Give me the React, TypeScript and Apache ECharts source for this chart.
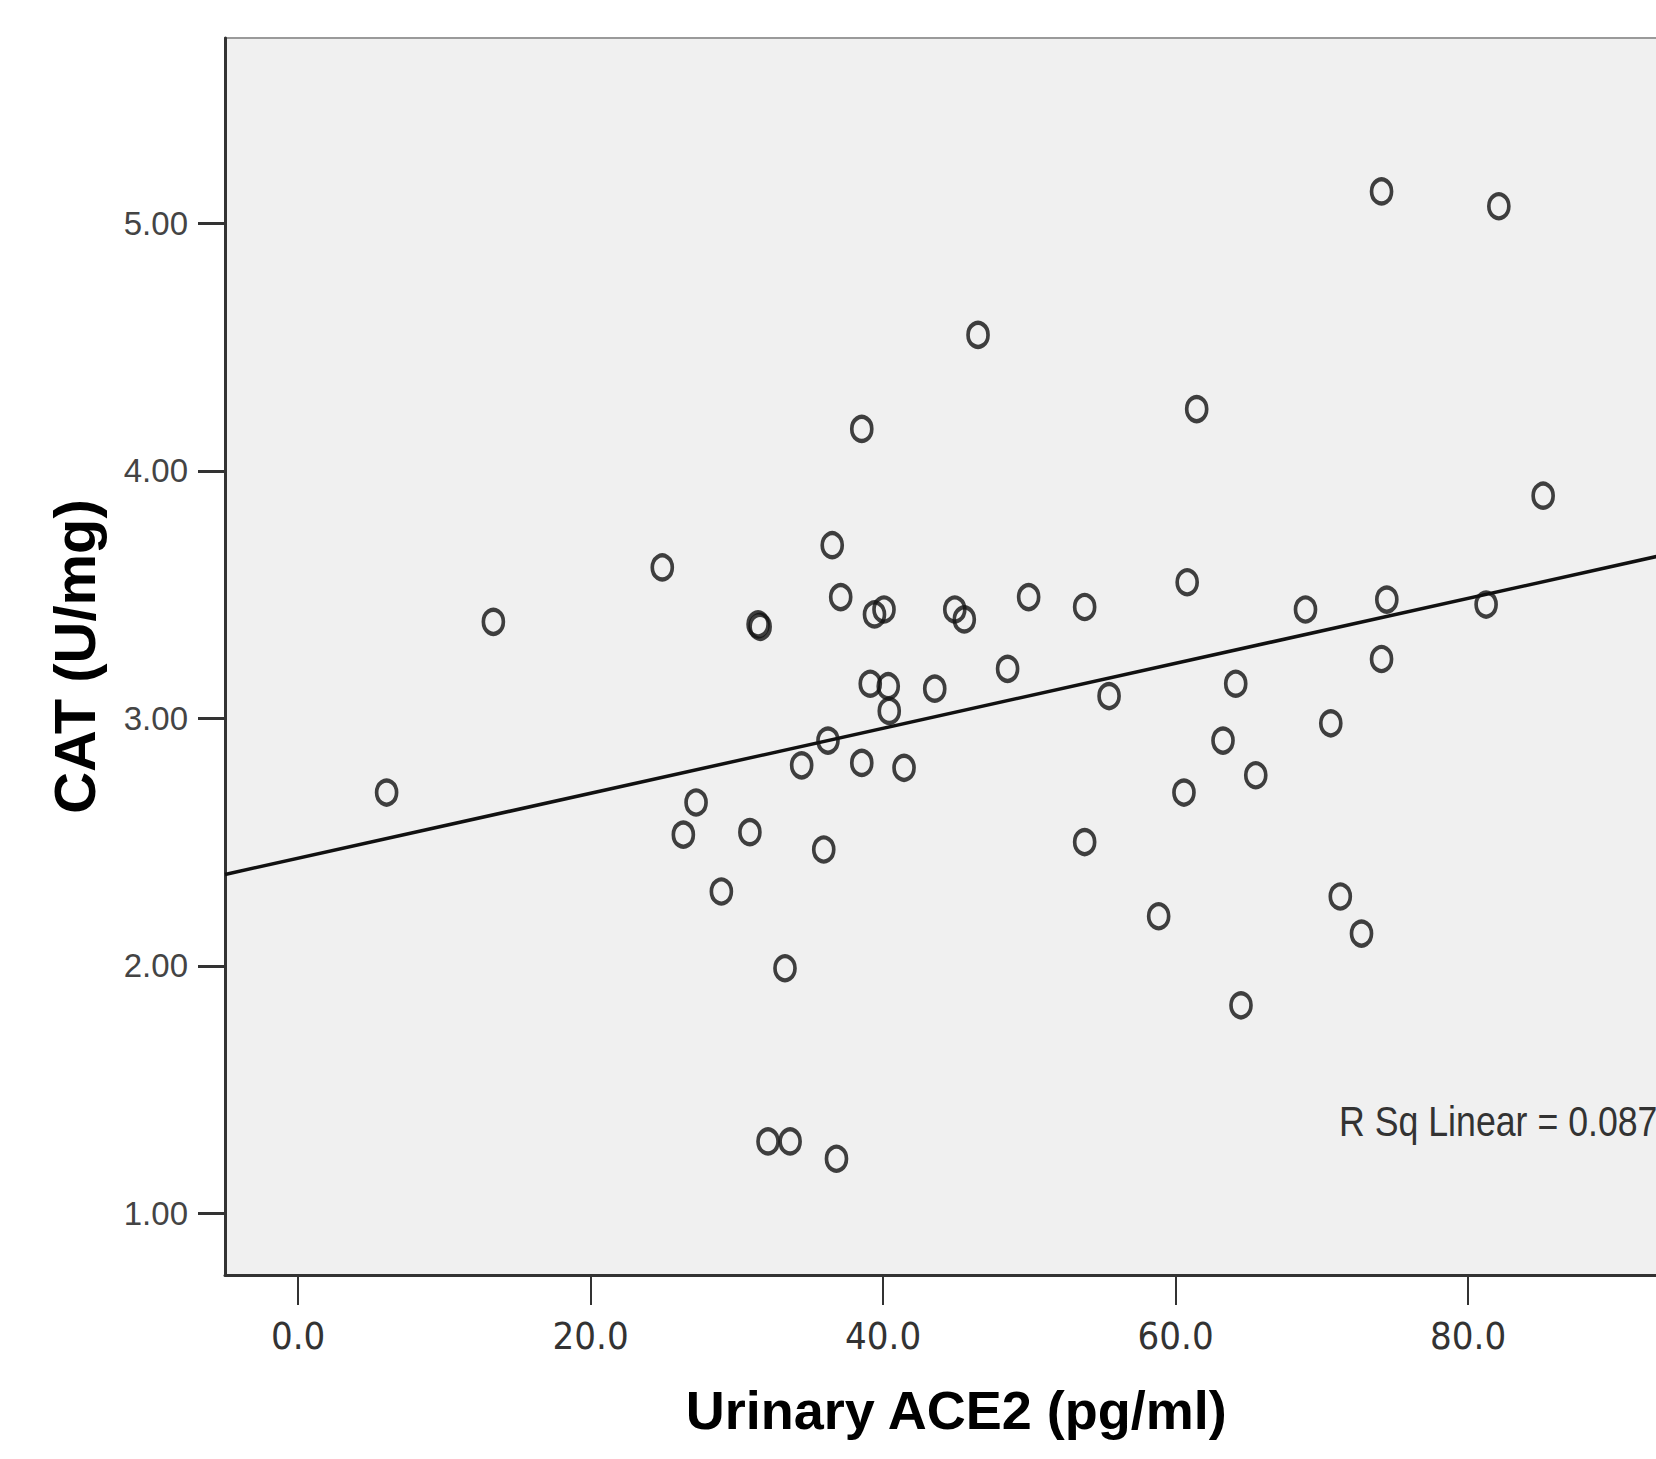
import React, { useEffect, useRef } from "react";
import * as echarts from "echarts";

// Urinary ACE2 (pg/ml) for each subject
const ace2 = [
  6.05, 13.35, 24.9, 26.34, 27.21, 28.94, 30.89, 31.45, 31.59, 33.29,
  32.13, 33.64, 36.81, 34.43, 35.94, 36.23, 36.52, 37.1, 38.54, 38.54,
  39.12, 39.41, 40.06, 40.35, 40.42, 41.43, 43.53, 44.9, 45.55, 46.49,
  48.51, 49.95, 53.78, 53.78, 55.45, 58.84, 60.57, 60.79, 61.44, 63.24,
  64.11, 64.47, 65.48, 68.88, 70.61, 71.26, 72.71, 74.08, 74.08, 74.44,
  81.23, 82.1, 85.13,
];
// CAT (U/mg) for each subject
const cat = [
  2.7, 3.39, 3.61, 2.53, 2.66, 2.3, 2.54, 3.38, 3.37, 1.99,
  1.29, 1.29, 1.22, 2.81, 2.47, 2.91, 3.7, 3.49, 4.17, 2.82,
  3.14, 3.42, 3.44, 3.13, 3.03, 2.8, 3.12, 3.44, 3.4, 4.55,
  3.2, 3.49, 3.45, 2.5, 3.09, 2.2, 2.7, 3.55, 4.25, 2.91,
  3.14, 1.84, 2.77, 3.44, 2.98, 2.28, 2.13, 5.13, 3.24, 3.48,
  3.46, 5.07, 3.9,
];
// Linear fit line end points
const fitX = [-5, 95];
const fitY = [2.369, 3.682];

const xTicks = [0, 20, 40, 60, 80];
const yTicks = [1, 2, 3, 4, 5];
const xTitle = "Urinary ACE2 (pg/ml)";
const yTitle = "CAT (U/mg)";
const rSqLabel = "R Sq Linear = 0.087";

const SANS = "'Liberation Sans', Arial, sans-serif";
const NARROW = "'DejaVu Sans Condensed', 'Liberation Sans Narrow', 'Liberation Sans', Arial, sans-serif";

export default function App() {
  const ref = useRef<HTMLDivElement>(null);
  useEffect(() => {
    const chart = echarts.init(ref.current!, null, { renderer: "svg" });
    chart.setOption({
      animation: false,
      backgroundColor: "#ffffff",
      grid: {
        show: true,
        left: 225,
        top: 38,
        width: 1462.5,
        height: 1237,
        outerBoundsMode: "none",
        containLabel: false,
        backgroundColor: "#f0f0f0",
        borderColor: "#9a9a9a",
        borderWidth: 2,
      },
      xAxis: {
        type: "value",
        min: -5,
        max: 95,
        splitLine: { show: false },
        axisLine: { show: true, onZero: false, lineStyle: { color: "#333", width: 3 } },
        axisTick: {
          show: true,
          customValues: xTicks,
          length: 30,
          lineStyle: { color: "#333", width: 2 },
        },
        axisLabel: {
          customValues: xTicks,
          formatter: (v: number) => v.toFixed(1),
          margin: 42,
          fontSize: 38,
          fontFamily: NARROW,
          color: "#333",
        },
        name: xTitle,
        nameLocation: "middle",
        nameGap: 108,
        nameTextStyle: { fontSize: 54, fontWeight: "bold", fontFamily: SANS, color: "#000" },
      },
      yAxis: {
        type: "value",
        min: 0.75,
        max: 5.75,
        splitLine: { show: false },
        axisLine: { show: true, onZero: false, lineStyle: { color: "#333", width: 3 } },
        axisTick: {
          show: true,
          customValues: yTicks,
          length: 27,
          lineStyle: { color: "#333", width: 3 },
        },
        axisLabel: {
          customValues: yTicks,
          formatter: (v: number) => v.toFixed(2),
          margin: 37,
          fontSize: 33,
          fontFamily: SANS,
          color: "#444",
        },
        name: yTitle,
        nameLocation: "middle",
        nameGap: 122,
        nameTextStyle: { fontSize: 58, fontWeight: "bold", fontFamily: SANS, color: "#000" },
      },
      series: [
        {
          type: "line",
          data: fitX.map((x, i) => [x, fitY[i]]),
          showSymbol: false,
          lineStyle: { color: "#111", width: 3.5 },
          z: 2,
        },
        {
          type: "scatter",
          data: ace2.map((x, i) => [x, cat[i]]),
          symbol: "circle",
          symbolSize: [20, 24],
          itemStyle: { color: "rgba(0,0,0,0)", borderColor: "#111", borderWidth: 4 },
          z: 3,
        },
      ],
      graphic: [
        {
          type: "text",
          x: 1339,
          y: 1100,
          scaleX: 0.85,
          style: { text: rSqLabel, fontSize: 42, fontFamily: SANS, fill: "#333", textVerticalAlign: "top" },
        },
      ],
    });
    return () => chart.dispose();
  }, []);
  return (
    <div
      ref={ref}
      style={{ position: "absolute", left: 0, top: 0, width: 1656, height: 1459, background: "#fff" }}
    />
  );
}
